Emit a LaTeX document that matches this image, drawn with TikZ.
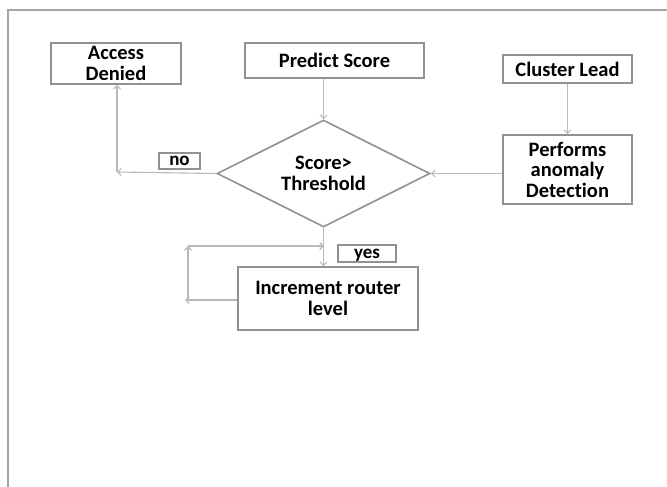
\documentclass[tikz,border=0pt]{standalone}
\usepackage{fontspec}
\setmainfont{Carlito}[Ligatures=NoCommon]
\usetikzlibrary{shapes.geometric,arrows.meta}
\definecolor{boxgray}{RGB}{145,145,145}
\definecolor{linegray}{RGB}{185,185,185}
\definecolor{framegray}{RGB}{165,165,165}
\tikzset{
  box/.style={draw=boxgray,line width=1.6pt,fill=white,align=center,inner sep=0pt,
    font=\bfseries\fontsize{20.5}{20.5}\selectfont},
  lbl/.style={draw=boxgray,line width=1.4pt,fill=white,inner sep=0pt,
    text height=9pt,text depth=0pt,
    font=\bfseries\fontsize{19}{20}\selectfont},
  conn/.style={draw=linegray,line width=1.1pt,-{Straight Barb[length=3.5pt,width=7pt]}},
  plain/.style={draw=linegray,line width=1.1pt}
}
\begin{document}
\begin{tikzpicture}[x=1pt,y=-1pt]
\useasboundingbox (0,0) rectangle (667,487);
% frame
\draw[framegray,line width=2pt] (8,487) -- (8,10) -- (667,10);
% nodes
\node[box,minimum width=130pt,minimum height=41pt] (access) at (116,63.5) {Access\\Denied};
\node[box,minimum width=179pt,minimum height=35pt] (predict) at (334.5,60.5) {Predict Score};
\node[box,minimum width=129pt,minimum height=28pt] (cluster) at (567.5,69) {Cluster Lead};
\node[box,minimum width=129pt,minimum height=69pt] (perform) at (567.5,169.5) {Performs\\anomaly\\Detection};
\node[box,shape=diamond,aspect=2,minimum width=213pt,minimum height=107pt] (dec) at (323.5,173.5) {Score>\\Threshold};
\node[box,minimum width=180pt,minimum height=63pt] (inc) at (328,298.5) {Increment router\\level};
\node[lbl,minimum width=41pt,minimum height=16pt] (no) at (179.5,161) {no};
\node[lbl,minimum width=58pt,minimum height=17pt] (yes) at (367,253.5) {yes};
% helper coordinates
\coordinate (cA) at (117,172);
\coordinate (cB) at (185,300);
\coordinate (cC) at (188,300);
\coordinate (cD) at (188,246);
\coordinate (cE) at (324,246);
% connectors
\draw[conn] (predict.south -| dec.north) -- (dec.north);
\draw[conn] (cluster.south) -- (perform.north);
\draw[conn] (perform.west |- dec.east) -- (dec.east);
\draw[conn] (dec.west) -- (cA);
\draw[conn] (cA) -- (access.south -| cA);
\draw[conn] (dec.south) -- (inc.north -| dec.south);
\draw[conn] (inc.west |- cB) -- (cB);
\draw[conn] (cC) -- (cD);
\draw[conn] (cD) -- (cE);
\end{tikzpicture}
\end{document}
